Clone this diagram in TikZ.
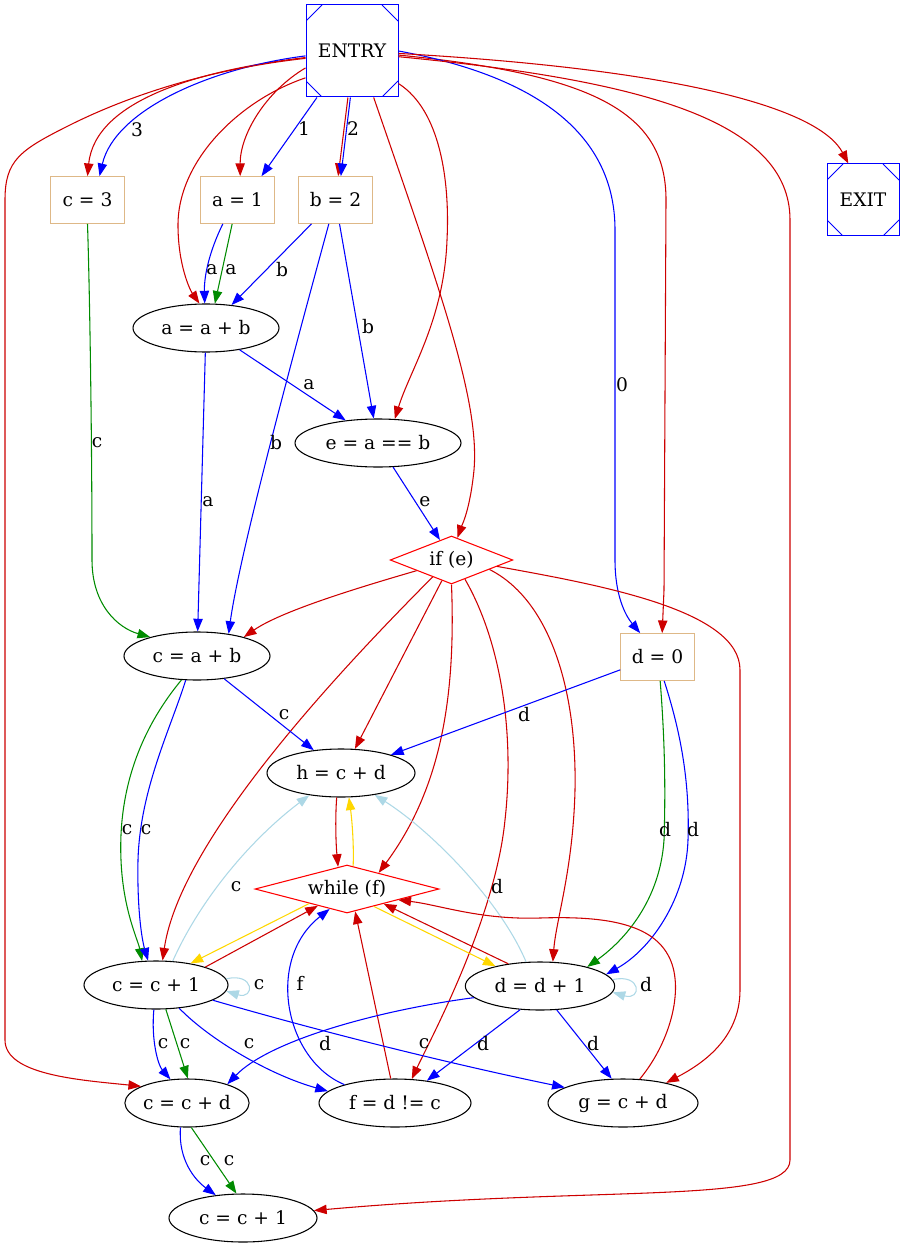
\documentclass[tikz,border=0pt]{standalone}
\usepackage{fontspec}
\setmainfont{DejaVu Serif}
\usepackage{xcolor}
\definecolor{cfred}{HTML}{CD0000}
\definecolor{cfblue}{HTML}{0000FF}
\definecolor{cfgreen}{HTML}{008B00}
\definecolor{cfgold}{HTML}{FFD700}
\definecolor{cfsky}{HTML}{ADD8E6}
\definecolor{cfwood}{HTML}{DEB887}
\definecolor{cfdia}{HTML}{FF0000}
\usepackage{tikz}
\usetikzlibrary{arrows.meta,shapes.geometric}
\tikzset{
  >={Triangle[length=9.5pt,width=7pt]},
  font=\fontsize{14pt}{16pt}\selectfont,
  stmt/.style={ellipse,draw=black,line width=0.8pt,minimum height=36pt,inner sep=0pt},
  const/.style={rectangle,draw=cfwood,line width=0.8pt,minimum width=55pt,
                minimum height=35pt,inner sep=0pt},
  cond/.style={diamond,draw=cfdia,line width=0.8pt,minimum height=36pt,inner sep=0pt},
  term/.style={rectangle,draw=cfblue,line width=0.75pt,inner sep=0pt,
    path picture={
      \draw[cfblue,line width=0.75pt]
        ([xshift=12pt]path picture bounding box.north west) -- ([yshift=-12pt]path picture bounding box.north west)
        ([xshift=-12pt]path picture bounding box.north east) -- ([yshift=-12pt]path picture bounding box.north east)
        ([xshift=12pt]path picture bounding box.south west) -- ([yshift=12pt]path picture bounding box.south west)
        ([xshift=-12pt]path picture bounding box.south east) -- ([yshift=12pt]path picture bounding box.south east);
    }},
  cflow/.style={->,draw=cfred,line width=0.8pt},
  dflow/.style={->,draw=cfblue,line width=0.8pt},
  vflow/.style={->,draw=cfgreen,line width=0.8pt},
  yflow/.style={->,draw=cfgold,line width=0.8pt},
  lflow/.style={->,draw=cfsky,line width=0.8pt},
  lbl/.style={inner sep=0pt},
}

\begin{document}
\begin{tikzpicture}[x=0.75pt,y=-0.75pt]
  \useasboundingbox (0,0) rectangle (905,1248);

  \node[term,minimum width=69pt,minimum height=69pt] (entry) at (352,51) {ENTRY};
  \node[term,minimum width=54pt,minimum height=54pt] (exit) at (863,200) {EXIT};
  \node[const] (c3) at (87.5,200) {c = 3};
  \node[const] (a1) at (237.5,200) {a = 1};
  \node[const] (b2) at (335.5,200) {b = 2};
  \node[stmt,minimum width=109.5pt] (aab) at (206,328) {a = a + b};
  \node[stmt,minimum width=124.5pt] (eab) at (378,443) {e = a == b};
  \node[cond,aspect=2.56,minimum width=92pt] (ife) at (451.5,560) {if (e)};
  \node[stmt,minimum width=109.5pt] (cab) at (197,656) {c = a + b};
  \node[const] (d0) at (657.5,657) {d = 0};
  \node[stmt,minimum width=111pt] (hcd) at (341,773) {h = c + d};
  \node[cond,aspect=3.8,minimum width=138pt] (whf) at (347,889) {while (f)};
  \node[stmt,minimum width=108pt] (cc1) at (156,985) {c = c + 1};
  \node[stmt,minimum width=112pt] (dd1) at (540,986) {d = d + 1};
  \node[stmt,minimum width=90pt] (ccd) at (187,1103) {c = c + d};
  \node[stmt,minimum width=114pt] (fdc) at (395,1103) {f = d != c};
  \node[stmt,minimum width=112.5pt] (gcd) at (623,1103) {g = c + d};
  \node[stmt,minimum width=111pt] (cc2) at (243,1218) {c = c + 1};

  \draw[cflow] (entry.188) .. controls (200,70) and (95,100) .. (c3.north);
  \draw[dflow] (entry.186) .. controls (210,68) and (115,110) .. ([xshift=9pt]c3.north);
  \draw[cflow] (entry.189) .. controls (200,70) and (120,100) .. (70,125) .. controls (20,150) and (5,160) .. (5,200)
    -- (5,1040) .. controls (5,1075) and (80,1080) .. (ccd.160);
  \draw[cflow] (entry.200) .. controls (265,92) and (240,135) .. ([xshift=2pt]a1.north);
  \draw[dflow] (entry.233) -- ([xshift=18pt]a1.north);
  \draw[cflow] (entry.265) -- ([xshift=2pt]b2.north);
  \draw[dflow] (entry.268) -- ([xshift=4pt]b2.north);
  \draw[cflow] (entry.210) .. controls (240,100) and (178,160) .. (178,225) .. controls (178,265) and (190,290) .. (aab.105);
  \draw[cflow] (entry.-35) .. controls (440,110) and (450,180) .. (447,240) .. controls (444,320) and (410,370) .. (eab.55);
  \draw[cflow] (entry.-65) .. controls (440,290) and (480,400) .. (474,470) .. controls (470,510) and (462,525) .. (ife.75);
  \draw[cflow] (entry.-5) .. controls (600,75) and (666,115) .. (666,200) -- (664,590) -- ([xshift=3.5pt]d0.north);
  \draw[dflow] (entry.0) .. controls (530,75) and (615,130) .. (615,230) -- (615,560)
    .. controls (615,595) and (625,615) .. ([xshift=-13pt]d0.north);
  \draw[cflow] (entry.-3) .. controls (690,70) and (820,110) .. ([xshift=-11pt]exit.north);
  \draw[cflow] (entry.-7) .. controls (640,80) and (790,120) .. (790,220) -- (790,1160)
    .. controls (790,1205) and (600,1185) .. (cc2.6);

  \draw[vflow] (c3.south) .. controls (90,300) and (92,450) .. (92,560) .. controls (92,605) and (118,628) .. (cab.158);
  \draw[dflow] ([xshift=-11pt]a1.south) .. controls (210,250) and (204,275) .. (aab.93);
  \draw[vflow] ([xshift=-4pt]a1.south) -- (aab.70);
  \draw[dflow] ([xshift=-18pt]b2.south) -- (aab.42);
  \draw[dflow] ([xshift=-5pt]b2.south) .. controls (300,330) and (240,550) .. (cab.35);
  \draw[dflow] ([xshift=3pt]b2.south) -- (eab.100);
  \draw[dflow] (aab.-33) -- (eab.145);
  \draw[dflow] (aab) -- (cab);
  \draw[dflow] (eab.-58) -- (ife.120);

  \draw[cflow] (ife.197) .. controls (350,590) and (280,612) .. (cab.22);
  \draw[cflow] (ife.245) -- (hcd.60);
  \draw[cflow] (ife.south) .. controls (456,700) and (440,790) .. (whf.27);
  \draw[cflow] (ife.222) .. controls (340,670) and (180,840) .. (cc1.75);
  \draw[cflow] (ife.-14) .. controls (550,600) and (577,690) .. (575,790) .. controls (573,870) and (556,920) .. (dd1.62);
  \draw[cflow] (ife.-55) .. controls (500,640) and (515,730) .. (505,820) .. controls (495,920) and (430,1040) .. (fdc.55);
  \draw[cflow] (ife.-8) .. controls (600,585) and (740,610) .. (740,670) -- (740,990)
    .. controls (740,1040) and (700,1065) .. (gcd.25);

  \draw[dflow] (cab.-40) -- (hcd.140);
  \draw[vflow] (cab.-123) .. controls (140,730) and (118,790) .. (121,860) .. controls (123,910) and (138,940) .. (cc1.120);
  \draw[dflow] (cab.-115) .. controls (170,730) and (140,790) .. (138,860) .. controls (137,910) and (142,940) .. (cc1.108);
  \draw[dflow] (d0.199) -- (hcd.20);
  \draw[vflow] ([xshift=2pt]d0.south) .. controls (664,730) and (666,780) .. (664,840) .. controls (660,900) and (625,940) .. (dd1.22);
  \draw[dflow] ([xshift=5pt]d0.south) .. controls (680,730) and (690,780) .. (688,840) .. controls (686,900) and (650,950) .. (dd1.10);

  \draw[cflow] (hcd.-100) .. controls (335,820) and (336,845) .. (whf.112);
  \draw[yflow] (whf.75) .. controls (354,845) and (352,820) .. (hcd.-72);
  \draw[lflow] (cc1.55) .. controls (200,900) and (250,840) .. (hcd.-145);
  \draw[lflow] (dd1.120) .. controls (500,900) and (430,830) .. (hcd.-33);
  \draw[yflow] (whf.201) -- (cc1.32);
  \draw[cflow] (cc1.20) -- (whf.210);
  \draw[yflow] (whf.-33) -- (dd1.156);
  \draw[cflow] (dd1.145) -- (whf.-22);
  \draw[dflow] (fdc.160) .. controls (285,1060) and (265,960) .. (whf.229);
  \draw[cflow] (fdc.100) -- (whf.-70);
  \draw[cflow] (gcd.55) .. controls (672,1040) and (685,985) .. (668,955) .. controls (650,922) and (600,916) .. (540,918)
    .. controls (480,920) and (440,905) .. (whf.-12);

  \draw[lflow] (cc1.5) .. controls (255,972) and (255,1000) .. (cc1.-5);
  \draw[lflow] (dd1.5) .. controls (642,973) and (642,1001) .. (dd1.-5);
  \draw[dflow] (cc1.-95) .. controls (151,1040) and (158,1065) .. (ccd.125);
  \draw[vflow] (cc1.-68) -- (ccd.88);
  \draw[dflow] (cc1.-45) .. controls (210,1040) and (270,1075) .. (fdc.170);
  \draw[dflow] (cc1.-15) .. controls (350,1040) and (480,1070) .. (gcd.165);
  \draw[dflow] (dd1.-170) .. controls (380,1010) and (270,1040) .. (ccd.25);
  \draw[dflow] (dd1.-130) -- (fdc.35);
  \draw[dflow] (dd1.-55) -- (gcd.115);
  \draw[dflow] (ccd.-105) .. controls (178,1160) and (195,1180) .. (cc2.140);
  \draw[vflow] (ccd.-80) -- (cc2.105);

  \node[lbl] (l3) at (137,130) {3};
  \node[lbl] (l1) at (304,129) {1};
  \node[lbl] (l2) at (353,129) {2};
  \node[lbl] (la1) at (212,270) {a};
  \node[lbl] (la2) at (231,270) {a};
  \node[lbl] (lb1) at (282,270) {b};
  \node[lbl] (lb2) at (368,327) {b};
  \node[lbl] (la3) at (309,385) {a};
  \node[lbl] (l0) at (622,385) {0};
  \node[lbl] (lc1) at (97,443) {c};
  \node[lbl] (lb3) at (276,443) {b};
  \node[lbl] (le) at (425,502) {e};
  \node[lbl] (la4) at (208,502) {a};
  \node[lbl] (lc2) at (284,715) {c};
  \node[lbl] (ld1) at (524,715) {d};
  \node[lbl] (lc3) at (127,830) {c};
  \node[lbl] (lc4) at (146,830) {c};
  \node[lbl] (ld2) at (665,830) {d};
  \node[lbl] (ld3) at (693,830) {d};
  \node[lbl] (lc5) at (236,887) {c};
  \node[lbl] (ld4) at (497,887) {d};
  \node[lbl] (lc6) at (259,985) {c};
  \node[lbl] (ld5) at (646,985) {d};
  \node[lbl] (lf) at (300,983) {f};
  \node[lbl] (lc7) at (163,1044) {c};
  \node[lbl] (lc8) at (185,1044) {c};
  \node[lbl] (lc9) at (249,1044) {c};
  \node[lbl] (ld6) at (325,1044) {d};
  \node[lbl] (lc10) at (424,1044) {c};
  \node[lbl] (ld7) at (483,1044) {d};
  \node[lbl] (ld8) at (593,1044) {d};
  \node[lbl] (lc11) at (205,1161) {c};
  \node[lbl] (lc12) at (229,1161) {c};
\end{tikzpicture}
\end{document}
